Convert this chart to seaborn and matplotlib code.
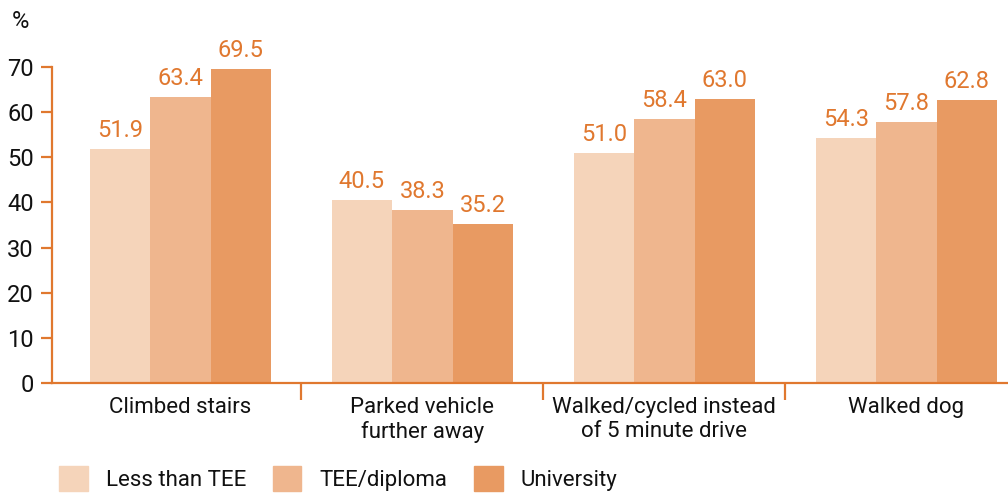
import numpy as np
import pandas as pd
import seaborn as sns
import matplotlib.pyplot as plt
from matplotlib.ticker import FixedLocator

# data
categories = ["Climbed stairs", "Parked vehicle\nfurther away",
              "Walked/cycled instead\nof 5 minute drive", "Walked dog"]
groups = ["Less than TEE", "TEE/diploma", "University"]
less_than_tee = [51.9, 40.5, 51.0, 54.3]
tee_diploma = [63.4, 38.3, 58.4, 57.8]
university = [69.5, 35.2, 63.0, 62.8]

colors = ["#F5D4BA", "#EFB68E", "#E89A62"]
orange = "#E0782F"
dark = "#111111"

df = pd.DataFrame({
    "activity": categories * 3,
    "group": [g for g in groups for _ in categories],
    "value": less_than_tee + tee_diploma + university,
})

sns.set_theme(style="white")
plt.rcParams['font.family'] = ['Liberation Sans Narrow', 'Roboto', 'DejaVu Sans']

fig = plt.figure(figsize=(10.08, 4.93), dpi=100)
ax = fig.add_axes([52 / 1008, 110 / 493, 1 - 52 / 1008, 316 / 493])

sns.barplot(data=df, x="activity", y="value", hue="group", order=categories,
            hue_order=groups, palette=colors, width=0.75, gap=0,
            saturation=1, linewidth=0, ax=ax, legend=False)

for c in ax.containers:
    ax.bar_label(c, fmt="%.1f", padding=5, color=orange, fontsize=17)

ax.set_xlim(-0.53, 3.42)
ax.set_ylim(0, 70)
ax.set_yticks(range(0, 80, 10))
ax.set_xlabel("")
ax.set_ylabel("")

for s in ["top", "right"]:
    ax.spines[s].set_visible(False)
for s in ["left", "bottom"]:
    ax.spines[s].set_color(orange)
    ax.spines[s].set_linewidth(1.6)

ax.tick_params(axis="y", left=True, length=8, width=1.6, color=orange,
               labelsize=17, labelcolor=dark, pad=5)
ax.tick_params(axis="x", bottom=False, labelsize=16, labelcolor=dark, pad=4)
ax.xaxis.set_minor_locator(FixedLocator([0.5, 1.5, 2.5]))
ax.tick_params(axis="x", which="minor", bottom=True, length=12, width=1.6,
               color=orange, direction="out")

fig.text(12 / 1008, 1 - 22 / 493, "%", fontsize=17, color=dark, va="center")

handles = [plt.Rectangle((0, 0), 1, 1, color=c) for c in colors]
leg = fig.legend(handles, groups, loc="lower left", bbox_to_anchor=(50 / 1008, -0.014),
                 ncol=3, frameon=False, fontsize=16, handlelength=1.3, handleheight=1.3,
                 handletextpad=0.8, columnspacing=1.2, borderaxespad=0)
for t in leg.get_texts():
    t.set_color(dark)

fig.savefig("out.png", dpi=100)
